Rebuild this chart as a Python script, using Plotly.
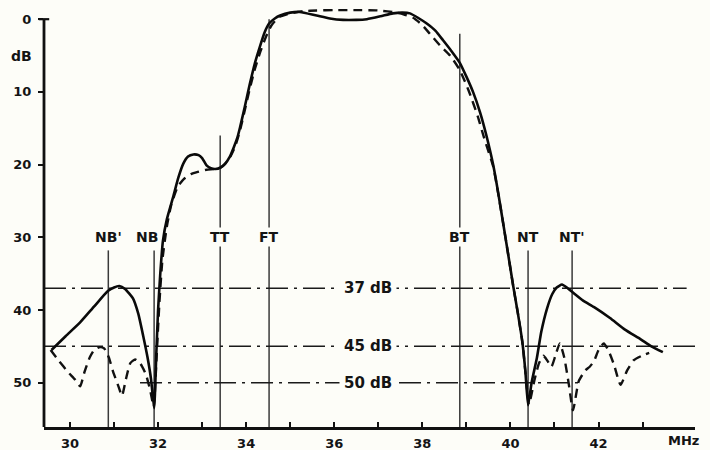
import plotly.graph_objects as go

# ---------------- data ----------------
solid_f = [29.58, 29.9, 30.23, 30.55, 30.86, 31.0, 31.12, 31.25, 31.43, 31.55, 31.66, 31.76, 31.84, 31.91,
           31.96, 32.0, 32.05, 32.11, 32.2, 32.34, 32.46, 32.57, 32.68, 32.8, 32.92, 33.0, 33.1, 33.2, 33.3,
           33.42, 33.52, 33.63, 33.72, 33.8, 33.86, 33.97, 34.08, 34.2, 34.31, 34.42, 34.52, 34.65, 34.77,
           35.0, 35.22, 35.6, 35.9, 36.2, 36.5, 36.74, 37.05, 37.33, 37.55, 37.72, 37.9, 38.1, 38.3, 38.47,
           38.65, 38.85, 39.0, 39.15, 39.31, 39.45, 39.61, 39.72, 39.83, 39.95, 40.06, 40.17, 40.27, 40.34, 40.4,
           40.48, 40.6, 40.7, 40.83, 40.95, 41.05, 41.17, 41.3, 41.42, 41.65, 41.9, 42.26, 42.6, 42.95, 43.2, 43.46]
solid_db = [45.5, 43.6, 41.7, 39.5, 37.4, 36.9, 36.7, 37.1, 38.4, 40.5, 43.5, 46.5, 49.5, 53.5,
            46.0, 40.0, 35.0, 30.5, 27.5, 24.5, 21.8, 19.9, 18.9, 18.6, 18.7, 19.1, 20.1, 20.5, 20.6,
            20.4, 19.9, 18.9, 17.6, 16.3, 14.9, 12.0, 9.0, 6.0, 3.8, 1.8, 0.6, -0.1, -0.5,
            -0.9, -1.0, -0.5, -0.1, 0.1, 0.1, 0.0, -0.4, -0.8, -0.9, -0.8, -0.2, 0.6, 1.6, 2.9,
            4.3, 6.0, 7.9, 10.0, 12.8, 15.9, 20.1, 23.8, 27.9, 32.4, 36.6, 40.5, 44.4, 48.5, 53.1,
            50.0, 46.6, 43.0, 39.8, 37.8, 36.9, 36.5, 37.0, 37.6, 38.7, 39.6, 41.1, 42.7, 44.0, 45.0, 45.8]

dashed_f = [29.56, 29.75, 29.95, 30.12, 30.23, 30.33, 30.45, 30.55, 30.68, 30.78, 30.88, 30.98, 31.1, 31.18,
            31.27, 31.37, 31.48, 31.6, 31.72, 31.82, 31.9,
            31.97, 32.03, 32.1, 32.2, 32.3, 32.45, 32.6, 32.75, 32.9, 33.1, 33.3,
            33.42, 33.52, 33.63, 33.75, 33.86, 33.97, 34.08, 34.2, 34.32, 34.45, 34.58, 34.75, 35.0, 35.3,
            35.6, 36.0, 36.5, 37.0, 37.42, 37.6, 37.79, 37.98, 38.17, 38.4, 38.63, 38.85, 39.05, 39.26, 39.4,
            39.61, 39.72, 39.83, 39.95, 40.06, 40.17, 40.27, 40.34, 40.42,
            40.55, 40.65, 40.75, 40.84, 40.93, 41.02, 41.12, 41.22, 41.32, 41.42,
            41.55, 41.7, 41.8, 41.9, 42.0, 42.12, 42.22, 42.35, 42.5, 42.65, 42.8, 42.98, 43.15]
dashed_db = [45.5, 47.0, 48.5, 49.6, 50.5, 48.5, 46.5, 45.5, 45.1, 45.3, 46.5, 48.5, 50.5, 51.8,
             49.5, 47.3, 46.8, 47.4, 48.8, 51.0, 53.3,
             46.0, 39.0, 33.0, 28.5, 25.5, 23.0, 21.9, 21.3, 21.0, 20.7, 20.6,
             20.4, 19.9, 19.0, 17.5, 15.3, 12.5, 9.6, 6.8, 4.5, 2.4, 0.8, -0.3, -0.8, -1.1,
             -1.2, -1.25, -1.25, -1.2, -0.9, -0.6, -0.2, 0.7, 2.0, 3.6, 5.0, 7.0, 9.8, 13.4, 16.3,
             20.3, 23.9, 27.9, 32.4, 36.6, 40.5, 44.4, 48.5, 53.0,
             49.5, 47.3, 46.3, 47.0, 47.8, 46.3, 44.6, 46.5, 50.0, 53.8,
             49.8, 48.3, 47.8, 47.0, 45.5, 44.6, 45.5, 47.5, 50.3, 48.3, 46.9, 46.3, 45.9]

marker_names = ["NB'", "NB", "TT", "FT", "BT", "NT", "NT'"]
marker_f = [30.87, 31.91, 33.41, 34.52, 38.85, 40.40, 41.40]
marker_top_db = [31.8, 31.8, 16.0, 0.0, 2.0, 31.8, 31.8]
label_db = 30

level_db = [37, 45, 50]
level_text = ["37 dB", "45 dB", "50 dB"]
level_f0 = [29.41, 29.41, 31.59]
level_f1 = [44.0, 44.3, 41.65]
level_label_f = 36.77

x_ticks = list(range(30, 44))
x_ticktext = [str(v) if v % 2 == 0 else "" for v in x_ticks]
y_ticks = [0, 10, 20, 30, 40, 50]

X_RANGE = [29.41, 44.19]
Y_RANGE = [56.09, -1.54]

FONT = "DejaVu Sans, Verdana, sans-serif"
BG = "#fdfdf8"
INK = "#141414"

fig = go.Figure()

fig.add_trace(go.Scatter(x=dashed_f, y=dashed_db, mode="lines",
                         line=dict(color="#111111", width=2.4, dash="9px,6px", shape="spline", smoothing=0.5),
                         hoverinfo="skip", showlegend=False))
fig.add_trace(go.Scatter(x=solid_f, y=solid_db, mode="lines",
                         line=dict(color="#0a0a0a", width=2.6, shape="spline", smoothing=0.5),
                         hoverinfo="skip", showlegend=False))

shapes = []
annotations = []
# vertical marker lines
for name, f, top in zip(marker_names, marker_f, marker_top_db):
    shapes.append(dict(type="line", xref="x", yref="y", x0=f, x1=f, y0=top, y1=Y_RANGE[0],
                       line=dict(color="#3a3a3a", width=1.5), layer="below"))
    covers_line = top < label_db
    annotations.append(dict(x=f, y=label_db, xref="x", yref="y", text=name, showarrow=False,
                            xanchor="center", yanchor="middle",
                            bgcolor=BG if covers_line else "rgba(0,0,0,0)", borderpad=1,
                            xshift=-7 if name == "NB" else 0,
                            font=dict(family=FONT, size=14, color=INK, weight="bold")))
# horizontal level lines
for db, txt, f0, f1 in zip(level_db, level_text, level_f0, level_f1):
    shapes.append(dict(type="line", xref="x", yref="y", x0=f0, x1=f1, y0=db, y1=db,
                       line=dict(color="#1a1a1a", width=1.5, dash="22px,6px,3px,6px"), layer="below"))
    annotations.append(dict(x=level_label_f, y=db, xref="x", yref="y", text=txt, showarrow=False,
                            xanchor="center", yanchor="middle", bgcolor=BG, borderpad=4,
                            font=dict(family=FONT, size=15, color=INK, weight="bold")))
# y axis line (starts at 0 dB)
shapes.append(dict(type="line", xref="paper", yref="y", x0=0, x1=0, y0=0, y1=Y_RANGE[0],
                   line=dict(color="#111111", width=2.8)))
shapes.append(dict(type="line", xref="paper", yref="y", x0=-0.008, x1=0.008, y0=0, y1=0,
                   line=dict(color="#111111", width=2.2)))

annotations.append(dict(x=0, y=5, xref="paper", yref="y", text="dB", showarrow=False,
                        xanchor="right", yanchor="middle", xshift=-10,
                        font=dict(family=FONT, size=14, color=INK, weight="bold")))
annotations.append(dict(x=43.92, y=0, xref="x", yref="paper", text="MHz", showarrow=False,
                        xanchor="center", yanchor="top", yshift=-4,
                        font=dict(family=FONT, size=13, color=INK, weight="bold")))

fig.update_layout(
    width=710, height=450,
    margin=dict(l=44, r=15, t=8, b=23, autoexpand=False),
    paper_bgcolor=BG, plot_bgcolor=BG,
    shapes=shapes, annotations=annotations,
    showlegend=False,
    xaxis=dict(range=X_RANGE, showgrid=False, zeroline=False, showline=True, linecolor="#111111",
               linewidth=2.8, tickmode="array", tickvals=x_ticks, ticktext=x_ticktext, automargin=False,
               ticks="inside", ticklen=5, tickwidth=2, tickcolor="#111111", ticklabelstandoff=2,
               tickfont=dict(family=FONT, size=13, color=INK, weight="bold")),
    yaxis=dict(range=Y_RANGE, showgrid=False, zeroline=False, showline=False, automargin=False,
               tickmode="array", tickvals=y_ticks, ticks="outside", ticklen=5, tickwidth=2,
               tickcolor="#111111", ticklabelstandoff=4,
               tickfont=dict(family=FONT, size=13, color=INK, weight="bold")),
)

fig.write_html("out.html", config={"displayModeBar": False},
               post_script="document.body.style.margin='0';document.body.style.background='%s';" % BG)
